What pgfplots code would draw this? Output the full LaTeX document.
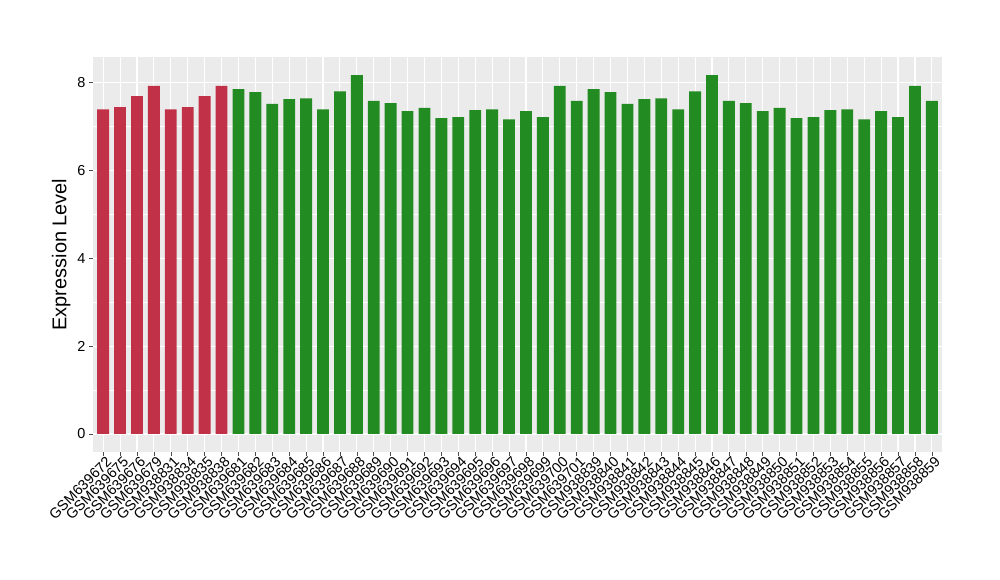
\documentclass[border=0pt]{standalone}
\usepackage{pgfplots}
\pgfplotsset{compat=1.18}
\usepackage{fontspec}
\setmainfont{Liberation Sans}
\definecolor{redbar}{RGB}{193,50,72}
\definecolor{greenbar}{RGB}{34,139,34}
\definecolor{panel}{RGB}{235,235,235}
\pgfplotstableread{
x y
1 7.39
2 7.44
3 7.69
4 7.92
5 7.39
6 7.44
7 7.69
8 7.92
}\redtab
\pgfplotstableread{
x y
9 7.85
10 7.78
11 7.51
12 7.62
13 7.64
14 7.39
15 7.80
16 8.17
17 7.58
18 7.53
19 7.35
20 7.42
21 7.19
22 7.21
23 7.37
24 7.39
25 7.16
26 7.35
27 7.21
28 7.92
29 7.58
30 7.85
31 7.78
32 7.51
33 7.62
34 7.64
35 7.39
36 7.80
37 8.17
38 7.58
39 7.53
40 7.35
41 7.42
42 7.19
43 7.21
44 7.37
45 7.39
46 7.16
47 7.35
48 7.21
49 7.92
50 7.58
}\greentab
\begin{document}
\begin{tikzpicture}[x=1bp,y=1bp]
\useasboundingbox (0,0) rectangle (1000,580);
\begin{axis}[
  at={(93bp,128bp)}, anchor=south west,
  width=849bp, height=395bp, scale only axis,
  xmin=0.4, xmax=50.6, ymin=-0.41, ymax=8.58,
  axis background/.style={fill=panel},
  axis line style={draw=none},
  xtick pos=bottom, ytick pos=left,
  xtick={1,...,50},
  xticklabels={GSM639672,GSM639675,GSM639676,GSM639679,GSM938831,GSM938834,GSM938835,GSM938838,
    GSM639681,GSM639682,GSM639683,GSM639684,GSM639685,GSM639686,GSM639687,GSM639688,GSM639689,GSM639690,GSM639691,GSM639692,GSM639693,GSM639694,GSM639695,GSM639696,GSM639697,GSM639698,GSM639699,GSM639700,GSM639701,
    GSM938839,GSM938840,GSM938841,GSM938842,GSM938843,GSM938844,GSM938845,GSM938846,GSM938847,GSM938848,GSM938849,GSM938850,GSM938851,GSM938852,GSM938853,GSM938854,GSM938855,GSM938856,GSM938857,GSM938858,GSM938859},
  xticklabel style={rotate=45, anchor=north east, font=\fontsize{14.5}{14.5}\selectfont, inner sep=1pt, xshift=3bp},
  ytick={0,2,4,6,8},
  minor ytick={1,3,5,7},
  yticklabel style={font=\fontsize{14.5}{14.5}\selectfont},
  ylabel={Expression Level},
  ylabel style={font=\fontsize{20}{20}\selectfont},
  grid=both,
  major grid style={white, line width=1.1pt},
  minor grid style={white, line width=0.5pt},
  tick style={color=black!70, line width=0.6pt},
  tick align=outside,
  major tick length=4bp,
  minor tick length=0pt,
  /pgf/number format/assume math mode=true,
]
\addplot[ybar, bar width=0.7, fill=redbar, draw=none, bar shift=0] table[x=x,y=y] {\redtab};
\addplot[ybar, bar width=0.7, fill=greenbar, draw=none, bar shift=0] table[x=x,y=y] {\greentab};
\end{axis}
\end{tikzpicture}
\end{document}
